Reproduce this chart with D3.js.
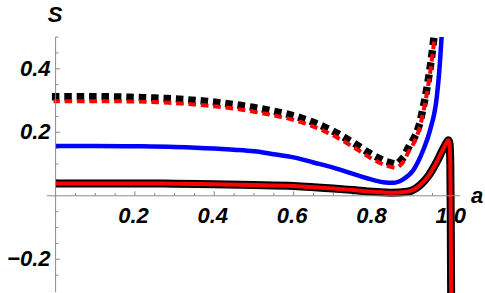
<!DOCTYPE html>
<html>
<head>
<meta charset="utf-8">
<script src="https://cdn.jsdelivr.net/npm/d3@7"></script>
<style>
    html, body { margin: 0; padding: 0; background: #fff; }
    svg { display: block; }
    text {
        font-family: 'Liberation Sans', Arial, sans-serif;
        font-weight: bold;
        font-style: italic;
        font-size: 22px;
        fill: #000;
    }
</style>
</head>
<body>
<svg id="viz"></svg>
<script>
// Dados

// curva sólida (preta com vermelho por dentro)
const aSolid = [0, 0.1, 0.2, 0.3, 0.4, 0.5, 0.6, 0.7, 0.75, 0.8, 0.85, 0.88, 0.9, 0.92, 0.94, 0.96, 0.97, 0.98, 0.986, 0.99, 0.993, 0.995, 0.996, 0.997, 0.998];
const sSolid = [0.039, 0.039, 0.039, 0.038, 0.036, 0.034, 0.031, 0.023, 0.018, 0.013, 0.010, 0.012, 0.018, 0.035, 0.063, 0.105, 0.13, 0.155, 0.168, 0.175, 0.165, 0.1, -0.05, -0.3, -0.6];

// curva azul
const aBlue = [0, 0.1, 0.2, 0.3, 0.4, 0.45, 0.5, 0.55, 0.6, 0.65, 0.7, 0.75, 0.8, 0.826, 0.851, 0.876, 0.902, 0.914, 0.927, 0.944, 0.961, 0.967, 0.973, 0.98];
const sBlue = [0.157, 0.157, 0.156, 0.154, 0.149, 0.145, 0.14, 0.131, 0.121, 0.105, 0.089, 0.069, 0.05, 0.043, 0.041, 0.052, 0.081, 0.108, 0.145, 0.207, 0.312, 0.39, 0.5, 0.66];

// curvas pontilhadas (preta e vermelha)
const aDotted = [0, 0.1, 0.2, 0.3, 0.4, 0.5, 0.55, 0.6, 0.65, 0.7, 0.75, 0.8, 0.83, 0.855, 0.876, 0.889, 0.906, 0.917, 0.926, 0.934, 0.94, 0.946, 0.951, 0.956];
const sDottedBlack = [0.312, 0.312, 0.31, 0.305, 0.295, 0.278, 0.266, 0.252, 0.231, 0.203, 0.167, 0.128, 0.11, 0.102, 0.12, 0.151, 0.188, 0.225, 0.275, 0.325, 0.37, 0.42, 0.47, 0.525];
const sDottedRed = [0.298, 0.298, 0.297, 0.292, 0.282, 0.265, 0.253, 0.239, 0.218, 0.19, 0.154, 0.115, 0.097, 0.089, 0.106, 0.137, 0.174, 0.211, 0.259, 0.309, 0.354, 0.404, 0.454, 0.508];

// eixos
const xTicks = [0.2, 0.4, 0.6, 0.8, 1.0];
const xTickLabels = ['0.2', '0.4', '0.6', '0.8', '1.0'];
const yTicks = [-0.2, 0.2, 0.4];
const yTickLabels = ['\u22120.2', '0.2', '0.4'];

const width = 485;
const height = 293;

const x = d3.scaleLinear().domain([0, 1]).range([55.6, 452.3]);
const y = d3.scaleLinear().domain([-0.3, 0.5]).range([291.05, 37.05]);

const svg = d3.select('#viz')
    .attr('width', width)
    .attr('height', height);

const axisColor = '#8a8a8a';

// Marcas menores a cada 0.05
const xMinor = d3.range(1, 21).map((i) => i * 0.05)
    .filter((v) => !xTicks.some((t) => Math.abs(t - v) < 1e-6));
const yMinor = d3.range(-5, 11).map((i) => i * 0.05)
    .filter((v) => Math.abs(v) > 1e-6 && !yTicks.some((t) => Math.abs(t - v) < 1e-6));

const ticks = svg.append('g').attr('class', 'ticks')
    .attr('stroke', axisColor)
    .attr('stroke-width', 1);

ticks.selectAll('line.xmaj')
    .data(xTicks)
    .enter()
    .append('line')
    .attr('x1', (d) => x(d)).attr('x2', (d) => x(d))
    .attr('y1', y(0)).attr('y2', y(0) - 4.5);

ticks.selectAll('line.xmin')
    .data(xMinor)
    .enter()
    .append('line')
    .attr('x1', (d) => x(d)).attr('x2', (d) => x(d))
    .attr('y1', y(0)).attr('y2', y(0) - 2.8);

ticks.selectAll('line.ymaj')
    .data(yTicks)
    .enter()
    .append('line')
    .attr('x1', x(0)).attr('x2', x(0) + 4.5)
    .attr('y1', (d) => y(d)).attr('y2', (d) => y(d));

ticks.selectAll('line.ymin')
    .data(yMinor)
    .enter()
    .append('line')
    .attr('x1', x(0)).attr('x2', x(0) + 2.8)
    .attr('y1', (d) => y(d)).attr('y2', (d) => y(d));

// Rótulos
svg.append('g').selectAll('text')
    .data(xTicks)
    .enter()
    .append('text')
    .attr('x', (d) => x(d) - 1.5)
    .attr('y', y(0) + 27)
    .attr('text-anchor', 'middle')
    .text((d, i) => xTickLabels[i]);

svg.append('g').selectAll('text')
    .data(yTicks)
    .enter()
    .append('text')
    .attr('x', x(0) - 5)
    .attr('y', (d) => y(d) + 7)
    .attr('text-anchor', 'end')
    .text((d, i) => yTickLabels[i]);

svg.append('text')
    .attr('x', 55)
    .attr('y', 21.7)
    .attr('text-anchor', 'middle')
    .text('S');

svg.append('text')
    .attr('x', 471)
    .attr('y', 203.3)
    .text('a');

// Curvas
svg.append('clipPath').attr('id', 'plotClip')
    .append('rect')
    .attr('x', 0).attr('y', y(0.5))
    .attr('width', width).attr('height', height - y(0.5));

const line = d3.line()
    .x((d) => x(d[0]))
    .y((d) => y(d[1]))
    .curve(d3.curveMonotoneX);

const curves = svg.append('g').attr('clip-path', 'url(#plotClip)')
    .attr('fill', 'none');

curves.append('path')
    .attr('d', line(d3.zip(aDotted, sDottedBlack)))
    .attr('stroke', '#000')
    .attr('stroke-width', 7.4)
    .attr('stroke-linecap', 'square')
    .attr('stroke-dasharray', '0.1,12.3');

curves.append('path')
    .attr('d', line(d3.zip(aDotted, sDottedRed)))
    .attr('stroke', '#f00')
    .attr('stroke-width', 4)
    .attr('stroke-linecap', 'square')
    .attr('stroke-dasharray', '3.6,8.8')
    .attr('stroke-dashoffset', 1.4);

curves.append('path')
    .attr('d', line(d3.zip(aBlue, sBlue)))
    .attr('stroke', '#00f')
    .attr('stroke-width', 4.5);

curves.append('path')
    .attr('d', line(d3.zip(aSolid, sSolid)))
    .attr('stroke', '#000')
    .attr('stroke-width', 8)
    .attr('stroke-linejoin', 'round');

curves.append('path')
    .attr('d', line(d3.zip(aSolid, sSolid)))
    .attr('stroke', '#f00')
    .attr('stroke-width', 4)
    .attr('stroke-linejoin', 'round');

// Linhas dos eixos por cima
const axes = svg.append('g')
    .attr('stroke', axisColor)
    .attr('stroke-width', 1);

axes.append('line')
    .attr('x1', x(-0.022)).attr('x2', x(1.02))
    .attr('y1', y(0)).attr('y2', y(0));

axes.append('line')
    .attr('x1', x(0)).attr('x2', x(0))
    .attr('y1', y(0.5)).attr('y2', y(-0.3) + 1);
</script>
</body>
</html>
